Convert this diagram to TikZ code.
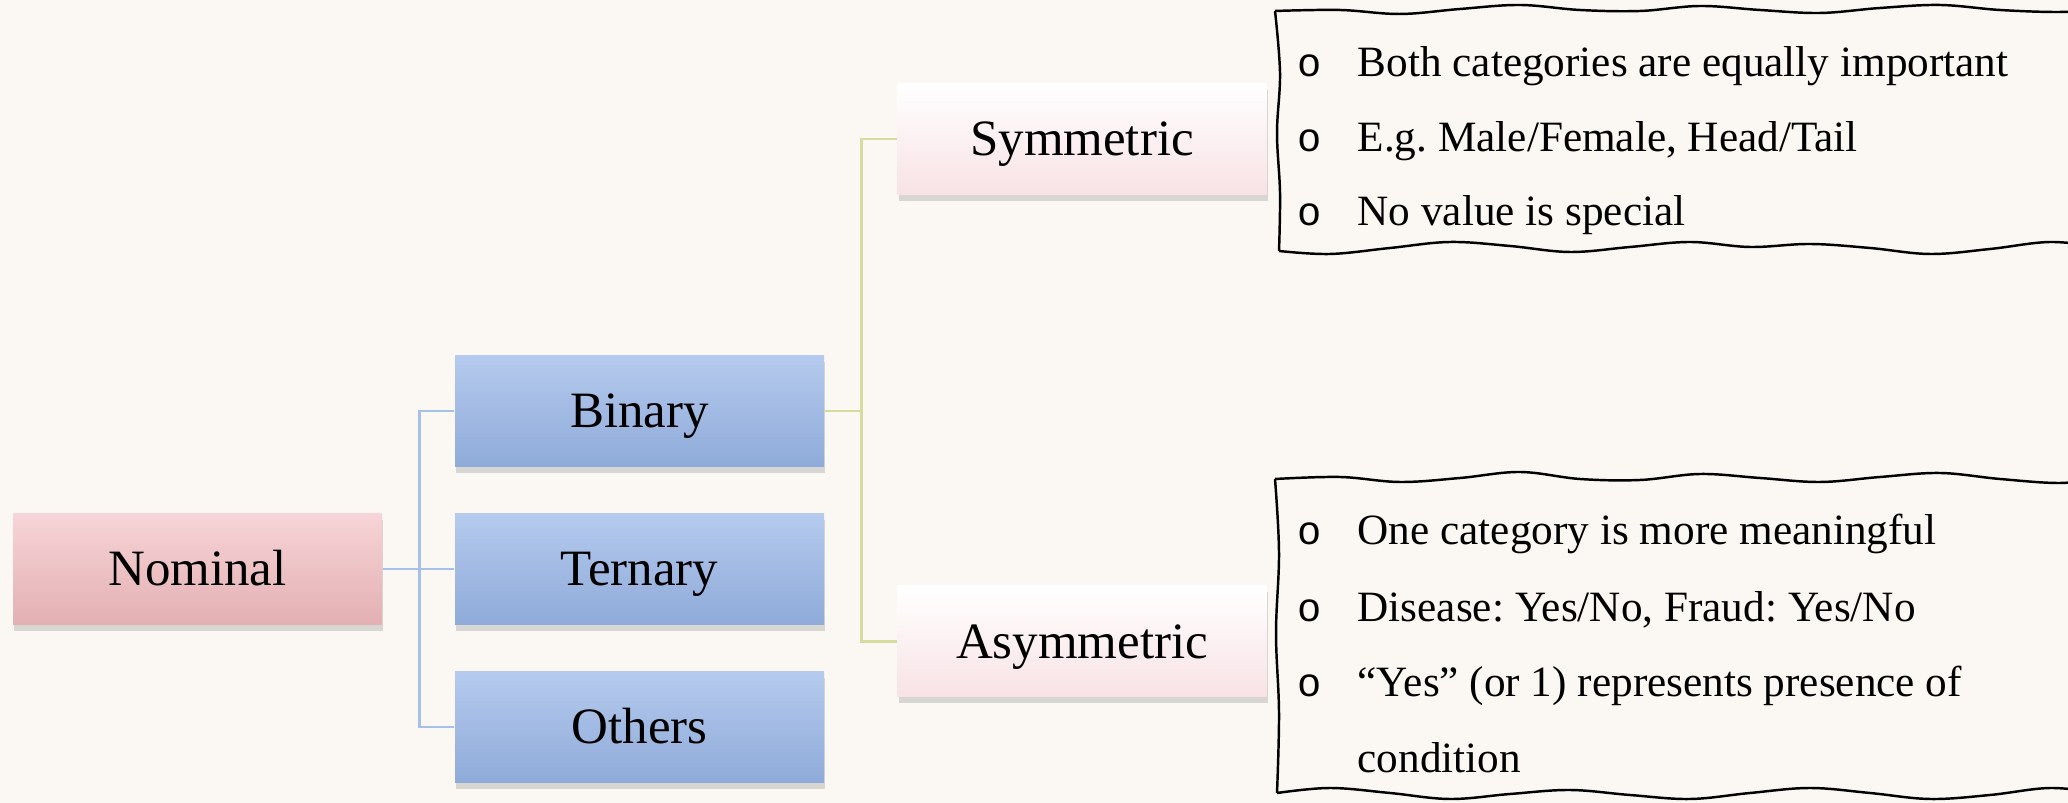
\documentclass[tikz,border=0pt]{standalone}
\usepackage{fontspec}
\setmainfont{Liberation Serif}
\newfontfamily\bulletfont{Liberation Mono}
\usepackage{tikz}
\usetikzlibrary{shadows}

\definecolor{bgcream}{HTML}{FBF8F3}
\definecolor{rosetop}{HTML}{F7D4D7}
\definecolor{rosebot}{HTML}{E3B0B3}
\definecolor{bluetop}{HTML}{B5CAEE}
\definecolor{bluebot}{HTML}{8FABD9}
\definecolor{paletop}{HTML}{FFFFFF}
\definecolor{palebot}{HTML}{F8E2E5}
\definecolor{bluelink}{HTML}{A6C0EA}
\definecolor{greenlink}{HTML}{D5DC9E}

\begin{document}
\begin{tikzpicture}[
box/.style={minimum width=3.69cm,minimum height=1.11cm,inner sep=0pt,
  font=\fontsize{14.5}{17}\selectfont,text height=9.6pt,text depth=0pt,
  drop shadow={opacity=0.28,shadow xshift=0.3pt,shadow yshift=-1.8pt}},
rootbox/.style={box,top color=rosetop,bottom color=rosebot},
midbox/.style={box,top color=bluetop,bottom color=bluebot},
leafbox/.style={box,top color=paletop,bottom color=palebot},
bluelink/.style={draw=bluelink,line width=0.8pt},
greenlink/.style={draw=greenlink,line width=0.8pt},
wavy/.style={draw=black,line width=0.7pt},
item/.style={anchor=base west,inner sep=0pt,font=\fontsize{12.3}{14}\selectfont\frenchspacing},
bullet/.style={anchor=base,inner sep=0pt,font=\bulletfont\fontsize{11.5}{14}\selectfont}
]

\fill[bgcream] (0,0) rectangle (20.68,8.03);
\useasboundingbox (0,0) rectangle (20.68,8.03);

\node[rootbox] (N) at (1.975,2.34) {Nominal};

\node[midbox] (Bi) at (6.395,3.92) {Binary};

\node[midbox] (Te) at (6.395,2.34) {Ternary};

\node[midbox] (Ot) at (6.395,0.76) {Others};

\node[leafbox] (Sy) at (10.82,6.64) {Symmetric};

\node[leafbox] (As) at (10.82,1.615) {Asymmetric};

\draw[bluelink] (N.east) -- (Te.west);
\draw[bluelink] (N.east) -- ++(0.365,0) |- (Bi.west);
\draw[bluelink] (N.east) -- ++(0.365,0) |- (Ot.west);

\draw[greenlink] (Bi.east) -- ++(0.37,0) |- (Sy.west);
\draw[greenlink] (Bi.east) -- ++(0.37,0) |- (As.west);

% hand drawn frames
\draw[wavy] plot[smooth,tension=0.6] coordinates {(12.75,7.92) (13.4,7.93) (14.0,7.89) (14.6,7.94) (15.2,7.98)
  (15.8,7.93) (16.4,7.92) (17.0,7.97) (17.6,7.93) (18.2,7.90) (18.8,7.95) (19.4,7.98) (20.0,7.93) (20.6,7.91) (21.0,7.94)}
  -- (21.0,5.56)
  plot[smooth,tension=0.6] coordinates {(21.0,5.56) (20.5,5.61) (19.9,5.54) (19.3,5.49) (18.7,5.55) (18.1,5.59)
  (17.5,5.56) (16.9,5.61) (16.3,5.56) (15.7,5.51) (15.1,5.57) (14.5,5.61) (13.9,5.55) (13.3,5.49) (12.79,5.52)}
  plot[smooth,tension=0.6] coordinates {(12.79,5.52) (12.80,6.1) (12.77,6.7) (12.80,7.3) (12.75,7.92)};

\draw[wavy] plot[smooth,tension=0.6] coordinates {(12.75,3.24) (13.4,3.26) (14.0,3.21) (14.6,3.25) (15.2,3.31)
  (15.8,3.24) (16.4,3.23) (17.0,3.29) (17.6,3.25) (18.2,3.21) (18.8,3.26) (19.4,3.30) (20.0,3.24) (20.6,3.20) (21.0,3.25)}
  -- (21.0,0.10)
  plot[smooth,tension=0.6] coordinates {(21.0,0.10) (20.5,0.15) (19.9,0.08) (19.3,0.04) (18.7,0.10) (18.1,0.15)
  (17.5,0.10) (16.9,0.04) (16.3,0.08) (15.7,0.13) (15.1,0.09) (14.5,0.04) (13.9,0.10) (13.3,0.15) (12.77,0.10)}
  plot[smooth,tension=0.6] coordinates {(12.77,0.10) (12.79,0.9) (12.76,1.7) (12.79,2.5) (12.75,3.24)};

\node[bullet] (d1) at (13.10,7.263) {o};
\node[item] (s1) at (13.57,7.263) {Both categories are equally important};
\node[bullet] (d2) at (13.10,6.518) {o};
\node[item] (s2) at (13.57,6.518) {E.g. Male/Female, Head/Tail};
\node[bullet] (d3) at (13.10,5.773) {o};
\node[item] (s3) at (13.57,5.773) {No value is special};

\node[bullet] (d4) at (13.10,2.583) {o};
\node[item] (a1) at (13.57,2.583) {One category is more meaningful};
\node[bullet] (d5) at (13.10,1.813) {o};
\node[item] (a2) at (13.57,1.813) {Disease: Yes/No, Fraud: Yes/No};
\node[bullet] (d6) at (13.10,1.063) {o};
\node[item] (a3) at (13.57,1.063) {``Yes'' (or 1) represents presence of};
\node[item] (a4) at (13.57,0.303) {condition};

\end{tikzpicture}
\end{document}
